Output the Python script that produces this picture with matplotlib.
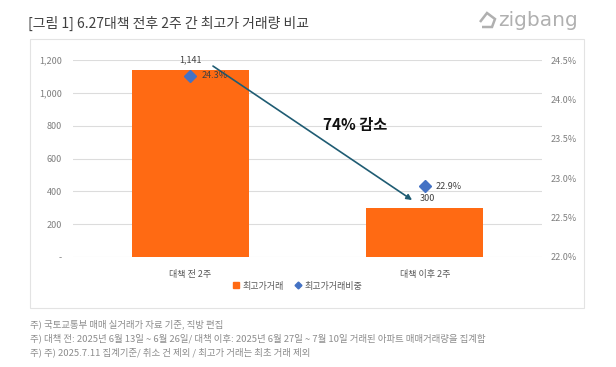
import matplotlib
matplotlib.use("Agg")
import matplotlib.pyplot as plt
from matplotlib.patches import Rectangle, Polygon
from matplotlib.lines import Line2D
from matplotlib.ticker import FuncFormatter

plt.rcParams['font.family'] = ['Noto Sans CJK KR', 'DejaVu Sans']

# ---- data ----
categories = ["대책 전 2주", "대책 이후 2주"]
volume = [1141, 300]
volume_labels = ["1,141", "300"]
share = [24.3, 22.9]
share_labels = ["24.3%", "22.9%"]
series_names = ["최고가거래", "최고가거래비중"]
left_ticks = [0, 200, 400, 600, 800, 1000, 1200]
right_ticks = [22.0, 22.5, 23.0, 23.5, 24.0, 24.5]
title = "[그림 1] 6.27대책 전후 2주 간 최고가 거래량 비교"
footnotes = [
    "주) 국토교통부 매매 실거래가 자료 기준, 직방 편집",
    "주) 대책 전: 2025년 6월 13일 ~ 6월 26일/ 대책 이후: 2025년 6월 27일 ~ 7월 10일 거래된 아파트 매매거래량을 집계함",
    "주) 주) 2025.7.11 집계기준/ 취소 건 제외 / 최고가 거래는 최초 거래 제외",
]
annotation_text = "74% 감소"

W, H = 616, 367
fig = plt.figure(figsize=(W / 100, H / 100), dpi=100)

def fx(px):
    return px / W

def fy(py):
    return 1 - py / H

ORANGE = "#FF6A13"
BLUE = "#4472C4"
GRID = "#DCDCDC"
TICK = "#7F7F7F"

# panel border
fig.patches.append(Rectangle((fx(30), fy(308)), fx(584) - fx(30), fy(39) - fy(308),
                             transform=fig.transFigure, fill=False,
                             edgecolor="#E3E3E3", lw=0.8))

ax = fig.add_axes([fx(73), fy(257), fx(542) - fx(73), fy(60) - fy(257)])
x = list(range(len(categories)))
ax.bar(x, volume, width=0.5, color=ORANGE, zorder=2)
ax.set_xlim(-0.5, 1.5)
ax.set_ylim(0, 1200)
ax.set_yticks(left_ticks)
ax.yaxis.set_major_formatter(FuncFormatter(lambda v, p: "-" if v == 0 else f"{int(v):,}"))
ax.grid(axis="y", color=GRID, lw=0.8, zorder=0)
for s in ax.spines.values():
    s.set_visible(False)
ax.tick_params(axis="y", length=0, pad=8, labelsize=6.5, labelcolor=TICK)
ax.set_xticks(x)
ax.set_xticklabels(categories)
ax.tick_params(axis="x", length=0, pad=9, labelsize=6.5, labelcolor="#595959")

for xi, v, lab in zip(x, volume, volume_labels):
    dx = 0.0 if xi == 0 else 0.01
    ax.text(xi + dx, v + 30, lab, ha="center", va="bottom", fontsize=6.5,
            color="#404040", zorder=5)

ax2 = ax.twinx()
ax2.set_ylim(22.0, 24.5)
ax2.set_yticks(right_ticks)
ax2.yaxis.set_major_formatter(FuncFormatter(lambda v, p: f"{v:.1f}%"))
for s in ax2.spines.values():
    s.set_visible(False)
ax2.tick_params(axis="y", length=0, pad=6, labelsize=6.5, labelcolor=TICK)
ax2.plot(x, share, linestyle="none", marker="D", markersize=6,
         color=BLUE, zorder=4)
for xi, v, lab in zip(x, share, share_labels):
    ax2.annotate(lab, (xi, v), xytext=(8, 0), textcoords="offset points",
                 ha="left", va="center", fontsize=6.5, color="#404040")

# arrow and annotation
ax.annotate("", xy=(0.946, 347), xytext=(0.097, 1163),
            arrowprops=dict(arrowstyle="-|>", color="#1F5C73", lw=1.2,
                            mutation_scale=8, shrinkA=0, shrinkB=0), zorder=6)
fig.text(fx(355), fy(125), annotation_text, ha="center", va="center",
         fontsize=11, fontweight="bold", color="#111111")

# legend
handles = [
    Line2D([], [], linestyle="none", marker="s", markersize=4, color=ORANGE),
    Line2D([], [], linestyle="none", marker="D", markersize=3.5, color=BLUE),
]
leg = fig.legend(handles, series_names, loc="center",
                 bbox_to_anchor=(fx(297), fy(286)), ncol=2, frameon=False,
                 fontsize=6.5, handlelength=0.8, handletextpad=0.3,
                 columnspacing=1.2, borderaxespad=0)
for t in leg.get_texts():
    t.set_color("#595959")

# title
fig.text(fx(28), fy(23), title, ha="left", va="center", fontsize=10,
         color="#404040")

# logo
fig.text(fx(498), fy(20), "zigbang", ha="left", va="center", fontsize=14.5,
         color="#B0B0B0", family=["DejaVu Sans"])
icon = Polygon([[fx(480), fy(22)], [fx(487), fy(13)], [fx(495), fy(19)],
                [fx(492), fy(27)], [fx(482), fy(27)]],
               closed=False, transform=fig.transFigure, fill=False,
               edgecolor="#B0B0B0", lw=1.8)
fig.patches.append(icon)

# footnotes
for i, note in enumerate(footnotes):
    fig.text(fx(30), fy(324 + 14 * i), note, ha="left", va="center",
             fontsize=6.8, color="#8C8C8C")

fig.savefig("out.png", dpi=100)
